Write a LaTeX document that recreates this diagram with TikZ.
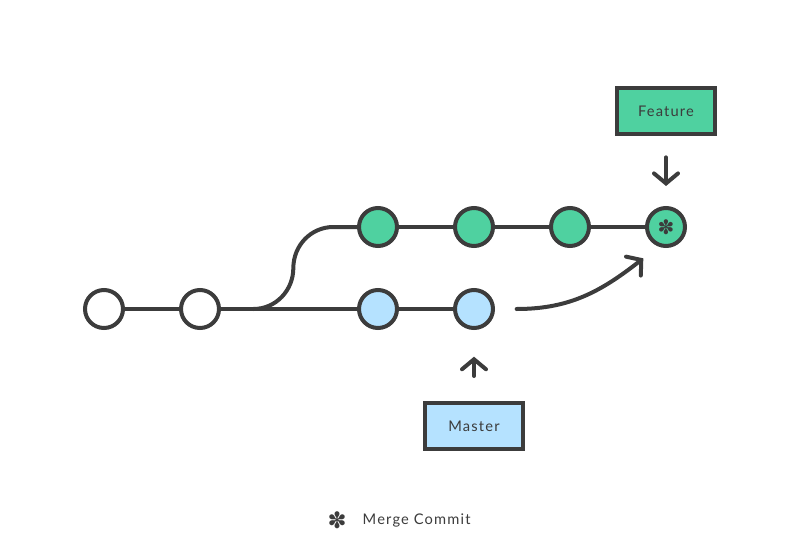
\documentclass[tikz,border=0pt]{standalone}
\usepackage{fontspec}
\setmainfont[LetterSpace=8]{Lato}
\newfontfamily\symfont{DejaVu Sans}
\usetikzlibrary{positioning,arrows.meta}
\definecolor{ink}{HTML}{3C3C3C}
\definecolor{featgreen}{HTML}{4FD1A0}
\definecolor{mastblue}{HTML}{B5E2FF}
\begin{document}
\begin{tikzpicture}[x=0.75pt,y=-0.75pt,node distance=72pt,on grid,
    commit/.style={circle,draw=ink,line width=3pt,minimum size=28.5pt,inner sep=0pt,fill=white},
    feat/.style={commit,fill=featgreen},
    mast/.style={commit,fill=mastblue},
    branch/.style={rectangle,draw=ink,line width=3pt,minimum width=73pt,minimum height=34.5pt,
        text=ink,font=\fontsize{11}{13}\selectfont},
    link/.style={draw=ink,line width=3pt},
    pointer/.style={link,line cap=round,-{Straight Barb[length=7.5pt,width=18pt,line cap=round]}}]
    \useasboundingbox (0,0) rectangle (800,536);

    \node[commit]  (c1) at (104,309)  {};
    \node[commit]  (c2) [right=of c1] {};
    \node[mast]    (m1) [right=133.5pt of c2] {};
    \node[mast]    (m2) [right=of m1] {};
    \node[feat]    (f1) [above=61.5pt of m1] {};
    \node[feat]    (f2) [right=of f1] {};
    \node[feat]    (f3) [right=of f2] {};
    \node[feat]    (f4) [right=of f3] {\symfont\fontsize{15}{15}\selectfont\color{ink}✽};

    \node[branch,fill=featgreen] (feature) [above=87pt of f4] {Feature};
    \node[branch,fill=mastblue]  (master)  [below=88pt of m2] {Master};

    \coordinate[right=40pt of c2] (fork);
    \coordinate[above right=30.75pt and 30pt of fork] (rise);
    \coordinate[above right=30.75pt and 30pt of rise] (join);
    \coordinate[right=32pt of m2] (mtail);
    \coordinate[above right=38pt and 95pt of mtail] (mhead);

    \path[link] (c1) -- (c2)
                (c2) -- (m1)
                (m1) -- (m2)
                (f1) -- (f2)
                (f2) -- (f3)
                (f3) -- (f4);
    \draw[link] (fork) to[out=0,in=-90] (rise) to[out=90,in=180] (join) -- (f1);

    \draw[pointer,shorten <=16pt,shorten >=15pt] (feature) -- (f4);
    \draw[pointer,shorten <=19pt,shorten >=20pt] (master) -- (m2);
    \draw[pointer] (mtail) to[out=0,in=218] (mhead);

    \node[text=ink] (star) at (337,520) {\symfont\fontsize{17}{17}\selectfont ✽};
    \node[text=ink,anchor=west,font=\fontsize{11}{13}\selectfont] (legend) at (358,520) {Merge Commit};
\end{tikzpicture}
\end{document}
